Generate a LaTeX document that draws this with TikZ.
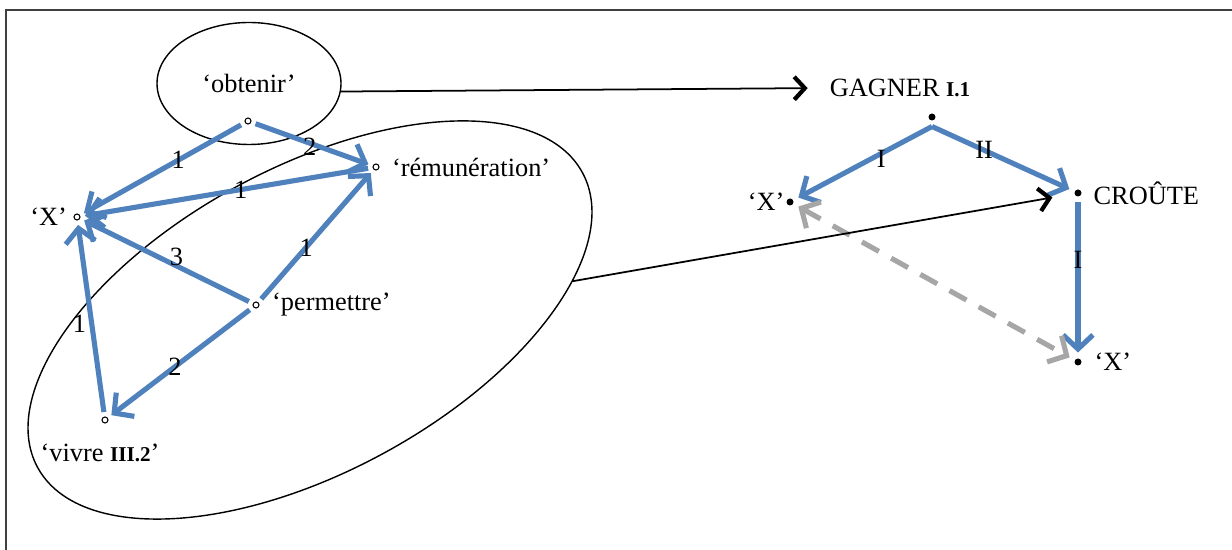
\documentclass[tikz,border=0pt]{standalone}
\usepackage{fontspec}
\setmainfont{Liberation Serif}
\usetikzlibrary{positioning,shapes.geometric,arrows.meta}
\definecolor{linkblue}{RGB}{79,129,189}
\definecolor{linkgrey}{RGB}{166,166,166}
\definecolor{framegrey}{RGB}{64,64,64}
\newcommand{\sensenum}[1]{{\fontsize{12}{14}\selectfont\bfseries #1}}
\tikzset{
  opendot/.style={circle, draw, line width=0.6pt, inner sep=0pt, minimum size=0.12cm, outer sep=0.1cm},
  fulldot/.style={circle, fill, inner sep=0pt, minimum size=0.14cm, outer sep=0.12cm},
  word/.style={inner sep=1pt},
  num/.style={inner sep=0pt, text=black},
  bubble/.style={ellipse, draw, line width=0.8pt, inner sep=0pt},
  bluelink/.style={linkblue, line width=2.9pt, -{Straight Barb[length=8pt,width=17pt]}},
  greylink/.style={linkgrey, line width=2.9pt, dash pattern=on 11pt off 8pt,
    {Straight Barb[length=8pt,width=17pt]}-{Straight Barb[length=8pt,width=17pt]}},
  blacklink/.style={black, line width=1pt, -{Straight Barb[length=6pt,width=13pt,line width=2.4pt]}}
}

\begin{document}
\begin{tikzpicture}[font=\fontsize{15}{18}\selectfont]

% 1. CANVAS & FRAME
\fill[white] (0,0) rectangle (24.64,11);
\useasboundingbox (0,0) rectangle (24.64,11);
\draw[framegrey, line width=1.2pt] (0.12,0) -- (0.12,10.8) -- (24.64,10.8);

% 2. LEFT SIDE: bubbles
\node[bubble, minimum width=3.68cm, minimum height=2.44cm] (obtenir) at (4.98,9.33) {`obtenir'};
\node[bubble, minimum width=12.39cm, minimum height=6.09cm, rotate=28.4] (group) at (6.2,4.6) {};

% Points
\node[opendot] (odot) at (4.96,8.58) {};
\node[opendot] (rdot) at (7.52,7.66) {};
\node[opendot] (xdot) at (1.54,6.66) {};
\node[opendot] (pdot) at (5.12,4.90) {};
\node[opendot] (vdot) at (2.10,2.60) {};

\node[word, right=0.12cm of rdot] (rword) {`rémunération'};
\node[word, left=0pt of xdot] (xword) {`X'};
\node[word, right=0.12cm of pdot] (pword) {`permettre'};
\node[word] (vword) at (2.0,1.94) {`vivre \sensenum{III.2}'};

% Links
\draw[bluelink] (odot) -- node[num, pos=0.4] {1} (xdot);
\draw[bluelink] (odot) -- node[num, pos=0.48, yshift=-2pt] {2} (rdot);
\draw[bluelink] (rdot) -- node[num, pos=0.45] {1} (xdot);
\draw[bluelink] (pdot) -- node[num, pos=0.44, yshift=5pt] {3} (xdot);
\draw[bluelink] (pdot) -- node[num, pos=0.41] {1} (rdot);
\draw[bluelink] (pdot) -- node[num, pos=0.54] {2} (vdot);
\draw[bluelink] (vdot) -- node[num, pos=0.47, xshift=-7pt] {1} (xdot);

% 3. RIGHT SIDE
\node[fulldot] (gdot) at (18.64,8.66) {};
\node[word] (gword) at (18.0,9.24) {GAGNER \sensenum{I.1}};
\node[fulldot] (xadot) at (15.8,6.96) {};
\node[word, left=-0.12cm of xadot] (xaword) {`X'};
\node[fulldot] (cdot) at (21.56,7.14) {};
\node[word, right=0.08cm of cdot] (cword) {CROÛTE};
\node[fulldot] (xbdot) at (21.56,3.76) {};
\node[word, right=0.1cm of xbdot] (xbword) {`X'};

\draw[bluelink] (gdot.south) -- node[num, pos=0.38, yshift=-3pt] {I} (xadot);
\draw[bluelink] (gdot.south) -- node[num, pos=0.38] {II} (cdot);
\draw[bluelink] (cdot) -- node[num, pos=0.38] {I} (xbdot);
\draw[greylink] (xadot) -- (xbdot);

% 4. CORRESPONDENCES
\draw[blacklink, shorten >=0.4cm] (obtenir.-5) -- (gword.west);
\draw[blacklink, shorten >=0.33cm] (group.-20.6) -- (cdot);

\end{tikzpicture}
\end{document}
